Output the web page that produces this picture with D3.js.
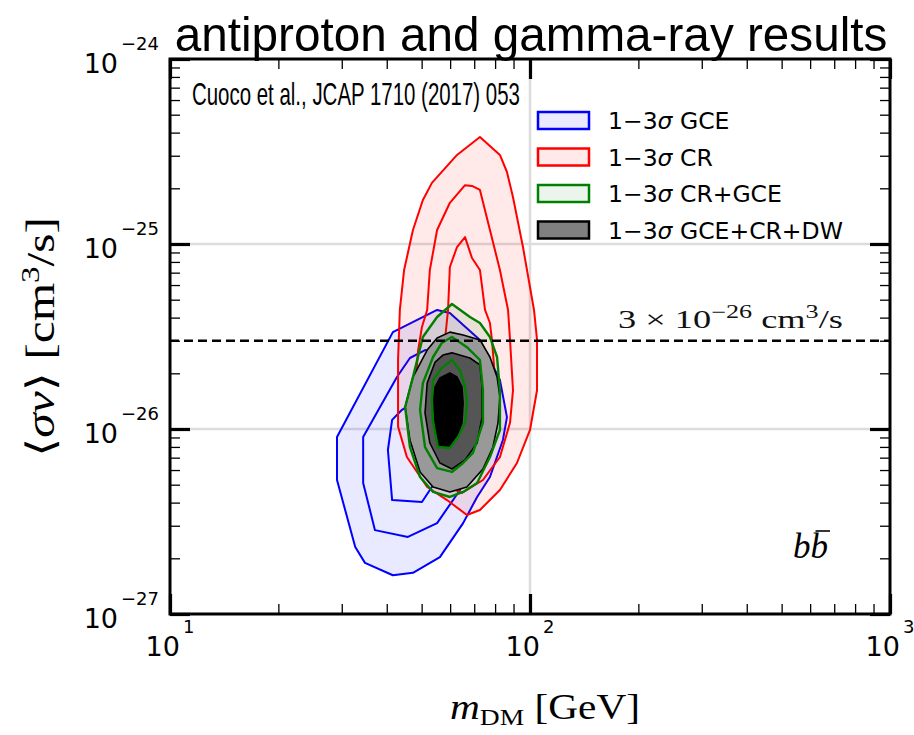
<!DOCTYPE html>
<html>
<head>
<meta charset="utf-8">
<script src="https://cdn.jsdelivr.net/npm/d3@7"></script>
<style>
  html, body { margin: 0; padding: 0; background: #fff; }
  svg { display: block; }
</style>
</head>
<body>
<svg id="chart" width="914" height="735"></svg>
<script>
// Mass in GeV, <sigma v> in units of 1e-26 cm^3/s.
// GCE-only contours (3, 2, 1 sigma)
const gce3 = [[55.2,4.40],[59.9,4.24],[72.6,3.03],[82.5,1.84],[86.3,1.16],[84.1,0.872],[77.4,0.550],[71.3,0.429],[65.2,0.310],[56.2,0.203],[47.3,0.167],[41.6,0.162],[34.8,0.189],[32.7,0.230],[29.1,0.530],[29.1,0.905],[41.6,3.34]];
const gce2 = [[51.1,2.67],[59.9,2.51],[68.1,1.84],[71.7,1.12],[68.1,0.680],[63.9,0.468],[55.2,0.310],[45.8,0.261],[37.1,0.284],[34.4,0.511],[34.4,0.905],[42.7,1.91],[46.4,2.42]];
const gce1 = [[44.1,1.27],[49.5,1.47],[56.2,1.53],[61.9,1.12],[59.9,0.680],[52.7,0.468],[50.1,0.403],[41.4,0.413],[40.3,0.770],[41.4,1.12]];

// Cosmic-ray antiproton contours
const cr3 = [[72.6,37.9],[82.5,30.3],[86.3,24.5],[89.7,17.9],[95.6,9.63],[102.6,4.40],[104.6,3.03],[104.6,1.62],[100,0.988],[92.0,0.655],[82.5,0.468],[72.6,0.365],[66.8,0.343],[58.8,0.413],[51.8,0.486],[45.5,0.706],[43.0,1.03],[43.0,2.36],[43.5,4.40],[44.7,7.24],[47.3,11.9],[50.4,17.3],[53.4,21.4],[62.7,30.3]];
const cr2 = [[66.0,20.8],[69.0,20.6],[72.6,19.6],[77.4,11.9],[82.5,7.24],[86.9,4.40],[88.0,3.03],[89.7,1.62],[88.0,1.08],[82.5,0.706],[74.0,0.530],[64.7,0.451],[56.2,0.511],[51.1,0.680],[48.6,0.988],[47.9,1.62],[48.9,2.67],[50.1,3.56],[51.8,4.40],[52.7,7.24],[55.2,11.9],[59.9,16.7]];
const cr1 = [[66.0,10.9],[69.0,8.40],[72.6,7.24],[75.0,4.40],[77.4,3.74],[78.4,3.03],[80.0,1.84],[77.4,1.12],[71.7,0.770],[64.7,0.680],[59.2,0.819],[56.9,1.27],[57.3,2.36],[59.2,4.40],[59.9,7.51],[62.7,9.63]];

// Combined CR + GCE contours
const crgce3 = [[60.7,4.74],[68.1,4.03],[72.6,3.74],[77.4,3.14],[81.0,2.45],[82.5,1.62],[82.5,0.988],[77.4,0.706],[71.3,0.511],[65.2,0.457],[59.9,0.429],[53.8,0.457],[49.5,0.550],[46.4,0.799],[45.0,1.315],[47.3,1.91],[50.4,3.14],[55.2,4.03]];
const crgce2 = [[60.7,3.14],[66.8,2.77],[72.6,2.36],[74.0,1.62],[74.0,1.08],[69.4,0.742],[65.2,0.655],[60.7,0.586],[55.2,0.615],[51.1,0.799],[49.5,1.27],[50.4,1.77],[53.8,2.45],[56.9,2.92]];
const crgce1 = [[60.7,2.36],[63.9,2.08],[66.0,1.69],[66.8,1.38],[66.0,1.08],[63.1,0.905],[59.9,0.789],[55.5,0.799],[53.8,1.08],[53.4,1.435],[53.8,1.84],[56.9,2.14]];

// GCE + CR + dwarf galaxies contours
const dw3 = [[59.9,3.34],[65.2,3.22],[72.6,3.03],[77.4,2.45],[81.0,1.91],[82.5,1.49],[81.5,1.08],[78.9,0.799],[74.0,0.608],[66.8,0.486],[59.9,0.457],[53.8,0.486],[49.5,0.586],[46.4,0.872],[45.0,1.315],[47.3,1.91],[51.8,2.67],[55.2,3.10]];
const dw2 = [[60.7,2.58],[68.1,2.42],[72.6,2.22],[73.6,1.69],[73.6,1.16],[71.3,0.840],[66.0,0.680],[60.7,0.608],[56.2,0.655],[52.7,0.840],[51.1,1.22],[51.8,1.77],[54.5,2.30],[57.3,2.51]];
const dw1 = [[59.9,2.01],[62.7,1.91],[64.7,1.69],[65.2,1.38],[64.7,1.08],[62.7,0.905],[59.9,0.799],[55.5,0.799],[54.5,1.08],[53.8,1.38],[54.5,1.69],[56.2,1.89]];

// Thermal relic cross section (1e-26 cm^3/s)
const thermalXS = 3;

// Legend entries
const legendNames = ["GCE", "CR", "CR+GCE", "GCE+CR+DW"];

// Axis ticks
const xMajor = [10, 100, 1000];
const xExps = [1, 2, 3];
const yMajor = [1e-27, 1e-26, 1e-25, 1e-24];
const yExps = [-27, -26, -25, -24];
const minorMult = [2, 3, 4, 5, 6, 7, 8, 9];

const svg = d3.select("#chart");
const L = 170, R = 890, T = 59, B = 614;

const x = d3.scaleLog().domain([10, 1000]).range([L, R]);
const y = d3.scaleLog().domain([1e-27, 1e-24]).range([B, T]);
const UNIT = 1e-26;

const line = d3.line()
  .x(d => x(d[0]))
  .y(d => y(d[1] * UNIT))
  .curve(d3.curveLinearClosed);

const plot = svg.append("g");
plot.append("clipPath").attr("id", "clip")
  .append("rect").attr("x", L).attr("y", T).attr("width", R - L).attr("height", B - T);

// Grid lines at the decades inside the frame
const gridCol = "#dcdcdc";
plot.append("g").selectAll("line").data([100]).join("line")
  .attr("x1", d => x(d)).attr("x2", d => x(d)).attr("y1", T).attr("y2", B)
  .attr("stroke", gridCol).attr("stroke-width", 2.5);
plot.append("g").selectAll("line").data([1e-26, 1e-25]).join("line")
  .attr("x1", L).attr("x2", R).attr("y1", d => y(d)).attr("y2", d => y(d))
  .attr("stroke", gridCol).attr("stroke-width", 2.5);

const layers = plot.append("g").attr("clip-path", "url(#clip)");

function fillOuter(set, fill) {
  layers.append("path").datum(set).attr("d", line).attr("fill", fill).attr("stroke", "none");
}
function outlines(sets, stroke, width) {
  layers.append("g").selectAll("path").data(sets).join("path")
    .attr("d", line).attr("fill", "none")
    .attr("stroke", stroke).attr("stroke-width", width).attr("stroke-linejoin", "round");
}

const blueFill = "rgba(0,0,255,0.085)";
const redFill = "rgba(255,0,0,0.085)";
const greenFill = "rgba(0,128,0,0.08)";

fillOuter(gce3, blueFill);
outlines([gce3, gce2, gce1], "#0000ff", 2);
fillOuter(cr3, redFill);
outlines([cr3, cr2, cr1], "#ff0000", 2);
fillOuter(crgce3, greenFill);

// Filled DW+CR+GCE regions
const dwFills = ["#999999", "#555555", "#000000"];
layers.append("g").selectAll("path").data([dw3, dw2, dw1]).join("path")
  .attr("d", line).attr("fill", (d, i) => dwFills[i])
  .attr("stroke", "#000").attr("stroke-width", 1.6).attr("stroke-linejoin", "round");

outlines([crgce3, crgce2, crgce1], "#008000", 2.4);

// Thermal cross-section reference line
plot.append("line")
  .attr("x1", L).attr("x2", R)
  .attr("y1", y(thermalXS * UNIT)).attr("y2", y(thermalXS * UNIT))
  .attr("stroke", "#000").attr("stroke-width", 2.6).attr("stroke-dasharray", "9,5");

// Ticks on all four sides, pointing inward
const xMinor = [10, 100].flatMap(d => minorMult.map(m => d * m));
const yMinor = [1e-27, 1e-26, 1e-25].flatMap(d => minorMult.map(m => d * m));

function ticks(axisFn, scale, pos, values, size, width) {
  const g = svg.append("g").attr("transform", pos)
    .call(axisFn(scale).tickValues(values).tickSize(-size).tickFormat(""));
  g.select(".domain").remove();
  g.selectAll(".tick line").attr("stroke", "#000").attr("stroke-width", width);
}
ticks(d3.axisBottom, x, `translate(0,${B})`, xMinor, 10, 1.3);
ticks(d3.axisTop, x, `translate(0,${T})`, xMinor, 10, 1.3);
ticks(d3.axisLeft, y, `translate(${L},0)`, yMinor, 10, 1.3);
ticks(d3.axisRight, y, `translate(${R},0)`, yMinor, 10, 1.3);
ticks(d3.axisBottom, x, `translate(0,${B})`, xMajor, 20, 3.2);
ticks(d3.axisTop, x, `translate(0,${T})`, xMajor, 20, 3.2);
ticks(d3.axisLeft, y, `translate(${L},0)`, yMajor, 20, 3.2);
ticks(d3.axisRight, y, `translate(${R},0)`, yMajor, 20, 3.2);

// Frame
svg.append("rect").attr("x", L).attr("y", T).attr("width", R - L).attr("height", B - T)
  .attr("fill", "none").attr("stroke", "#000").attr("stroke-width", 3);

// Tick labels (power-of-ten notation)
const tickFont = "'DejaVu Sans', sans-serif";
const xl = svg.append("g").attr("font-family", tickFont).attr("fill", "#000");
xMajor.forEach((v, i) => {
  const t = xl.append("text").attr("x", x(v)).attr("y", B + 42)
    .attr("text-anchor", "middle").attr("font-size", 27);
  t.append("tspan").text("10");
  t.append("tspan").attr("font-size", 18).attr("dy", -23).attr("dx", 3).text(String(xExps[i]));
});
const yl = svg.append("g").attr("font-family", tickFont).attr("fill", "#000");
yMajor.forEach((v, i) => {
  const t = yl.append("text").attr("x", 159).attr("y", y(v) + 14)
    .attr("text-anchor", "end").attr("font-size", 27);
  t.append("tspan").text("10");
  t.append("tspan").attr("font-size", 18).attr("dy", -23).attr("dx", 3)
    .text(String(yExps[i]).replace("-", "\u2212"));
});

// Stretch a text horizontally (in its own frame) so it spans the given width.
function fitWidth(sel, width, anchorX, anchorY, rotate) {
  const w = sel.node().getComputedTextLength();
  const s = width / w;
  sel.attr("x", 0).attr("y", 0)
    .attr("transform", `translate(${anchorX},${anchorY})` + (rotate ? ` rotate(${rotate})` : "") + ` scale(${s},1)`);
}

// Axis titles
const serif = "'Liberation Serif', 'DejaVu Serif', serif";
const xt = svg.append("text")
  .attr("text-anchor", "middle").attr("font-family", serif).attr("font-size", 36);
xt.append("tspan").attr("font-style", "italic").text("m");
xt.append("tspan").attr("font-size", 24).attr("dy", 6).text("DM");
xt.append("tspan").attr("dy", -6).text(" [GeV]");
fitWidth(xt, 190, 545, 719);

const yt = svg.append("text")
  .attr("text-anchor", "middle").attr("font-family", serif).attr("font-size", 39);
yt.append("tspan").text("\u27E8");
yt.append("tspan").attr("font-style", "italic").text("\u03C3v");
yt.append("tspan").text("\u27E9 [cm");
yt.append("tspan").attr("font-size", 26).attr("dy", -15).text("3");
yt.append("tspan").attr("dy", 15).text("/s]");
fitWidth(yt, 240, 54, 337, -90);

// Title and reference
const title = svg.append("text").attr("text-anchor", "middle")
  .attr("font-family", "'Liberation Sans', Arial, sans-serif").attr("font-size", 49)
  .text("antiproton and gamma-ray results");
fitWidth(title, 713, 531, 51);
const ref = svg.append("text")
  .attr("font-family", "'Liberation Sans', Arial, sans-serif").attr("font-size", 31)
  .text("Cuoco et al., JCAP 1710 (2017) 053");
fitWidth(ref, 328, 192, 105);

// Thermal line label
const th = svg.append("text")
  .attr("font-family", serif).attr("font-size", 25).attr("fill", "#111");
th.append("tspan").text("3 \u00D7 10");
th.append("tspan").attr("font-size", 18).attr("dy", -10).text("\u221226");
th.append("tspan").attr("dy", 10).text(" cm");
th.append("tspan").attr("font-size", 18).attr("dy", -10).text("3");
th.append("tspan").attr("dy", 10).text("/s");
fitWidth(th, 225, 618, 328);

// Annihilation channel label
const ch = svg.append("text").attr("x", 793).attr("y", 558)
  .attr("font-family", serif).attr("font-size", 35).attr("font-style", "italic")
  .text("bb");
{
  const node = ch.node();
  const s = node.getStartPositionOfChar(1), e = node.getEndPositionOfChar(1);
  svg.append("line").attr("x1", s.x + 5).attr("x2", e.x + 2)
    .attr("y1", 531).attr("y2", 531).attr("stroke", "#000").attr("stroke-width", 1.6);
}

// Legend
const legendStyle = [
  { fill: blueFill, stroke: "#0000ff" },
  { fill: redFill, stroke: "#ff0000" },
  { fill: greenFill, stroke: "#008000" },
  { fill: "#808080", stroke: "#000000" }
];
const lg = svg.append("g").attr("font-family", tickFont).attr("font-size", 23.5);
legendNames.forEach((name, i) => {
  const base = 129 + i * 36.5;
  lg.append("rect").attr("x", 538).attr("y", base - 17).attr("width", 51).attr("height", 17)
    .attr("fill", legendStyle[i].fill).attr("stroke", legendStyle[i].stroke).attr("stroke-width", 2.5);
  const t = lg.append("text").attr("x", 608).attr("y", base);
  t.append("tspan").text("1\u22123");
  t.append("tspan").attr("font-style", "italic").text("\u03C3");
  t.append("tspan").text(" " + name);
});
</script>
</body>
</html>
